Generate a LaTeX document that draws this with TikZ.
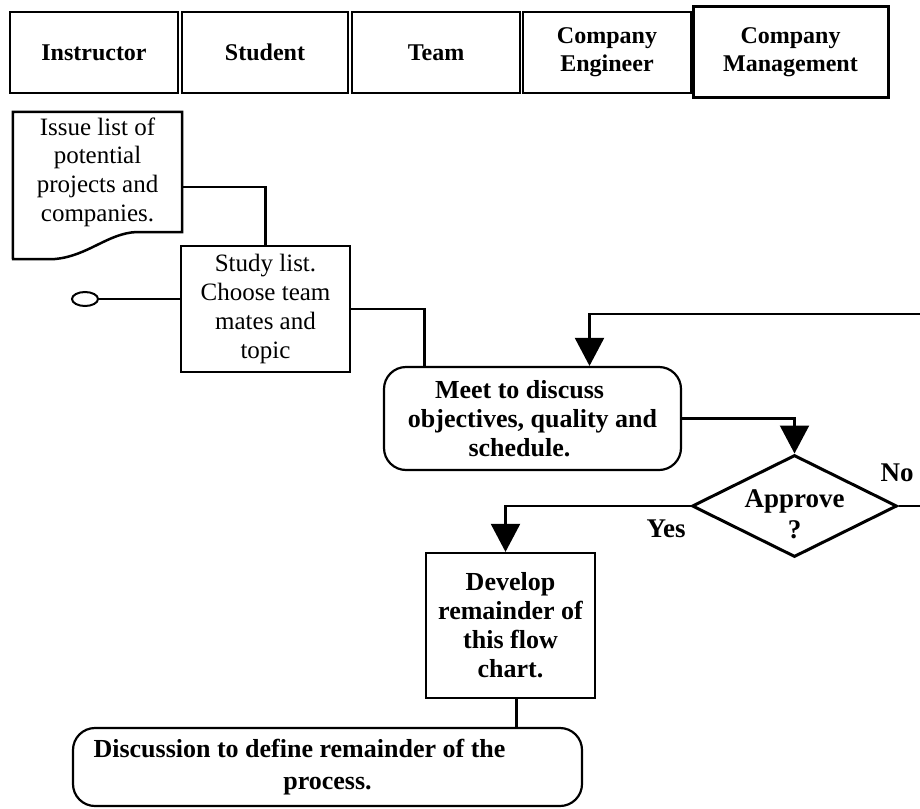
\documentclass[tikz,border=0pt]{standalone}
\usepackage{fontspec}
\setmainfont{Liberation Serif}
\usetikzlibrary{shapes.geometric, arrows.meta}

\tikzset{
  lanehead/.style={draw, line width=2.5pt, minimum width=168pt, minimum height=81pt, inner sep=0pt, align=center, font=\fontsize{24}{28}\selectfont\bfseries},
  stepbox/.style={draw, line width=2.2pt, inner sep=0pt, align=center, font=\fontsize{25}{28.7}\selectfont},
  boldbox/.style={stepbox, font=\fontsize{26}{29}\selectfont\bfseries},
  talkbox/.style={boldbox, rounded corners=22pt},
  link/.style={line width=2.2pt},
  flow/.style={link, -{Triangle[width=29pt, length=28pt]}},
  answer/.style={font=\fontsize{27}{31}\selectfont\bfseries},
}

\begin{document}
\begin{tikzpicture}[x=1pt, y=-1pt]
  \useasboundingbox (0,0) rectangle (920,808);
  \clip (0,0) rectangle (920,808);

  % -- Swim lane headers --
  \node[lanehead] (instr) at (94,52.5) {Instructor};
  \node[lanehead, minimum width=166pt] (stud) at (265,52.5) {Student};
  \node[lanehead] (team) at (436,52.5) {Team};
  \node[lanehead] (eng) at (607,52.5) {Company\\Engineer};
  \node[lanehead, minimum width=195pt, minimum height=90pt, line width=3pt] (mgmt) at (790.5,52) {Company\\Management};

  % -- Issue list (document) --
  \node[font=\fontsize{25}{28.7}\selectfont, align=center, minimum width=169pt, minimum height=120pt, inner sep=0pt] (issue) at (97.5,172) {Issue list of\\potential\\projects and\\companies.};
  \draw[line width=2.5pt] (issue.north west) -- (issue.north east) -- (issue.south east) -- (137,232)
    .. controls (108,233) and (88,256) .. (55,259) -- (13,259) -- cycle;

  % -- Study list --
  \node[stepbox, minimum width=169pt, minimum height=126pt] (study) at (265.5,309) {Study list.\\Choose team\\mates and\\topic};
  \node[draw, ellipse, line width=2pt, minimum width=26pt, minimum height=14pt, inner sep=0pt] (start) at (85,299) {};
  \draw[link] (start.east) -- (start.east -| study.west);
  \draw[link] ([yshift=-15pt]issue.east) -| (study.north);

  % -- Meeting --
  \node[talkbox, minimum width=297pt, minimum height=103pt] (meet) at (532.5,418.5) {Meet to discuss\hspace*{26pt}\\objectives, quality and\hspace*{26pt}\\schedule.\hspace*{26pt}};
  \draw[link] (study.east) -| ([xshift=-108pt]meet.north);

  % -- Decision --
  \node[draw, diamond, line width=3pt, minimum width=205pt, minimum height=102pt, inner sep=0pt, answer] (dec) at (794.5,506)
    {\makebox[0pt]{\raisebox{-17pt}[0pt][0pt]{\begin{tabular}{@{}c@{}}Approve\\?\end{tabular}}}};
  \draw[flow] (meet.east) -| (dec.north);
  \draw[flow] (dec.east) -- ++(40,0) |- ([xshift=57pt, yshift=52pt]meet.north) -- ([xshift=57pt]meet.north);
  \node[answer] (no) at (897,473) {No};
  \node[answer] (yes) at (666,529) {Yes};

  % -- Develop --
  \node[boldbox, minimum width=169pt, minimum height=145pt] (dev) at (510.5,625.5) {Develop\\remainder of\\this flow\\chart.};
  \draw[flow] (dec.west) -| ([xshift=-5pt]dev.north);

  % -- Discussion --
  \node[talkbox, font=\fontsize{26}{31.5}\selectfont\bfseries, minimum width=509pt, minimum height=78pt] (disc) at (327.5,767) {Discussion to define remainder of the\hspace*{56pt}\\process.};
  \coordinate (devfoot) at ([xshift=6pt]dev.south);
  \draw[link] (devfoot) -- (devfoot |- disc.north);

\end{tikzpicture}
\end{document}
